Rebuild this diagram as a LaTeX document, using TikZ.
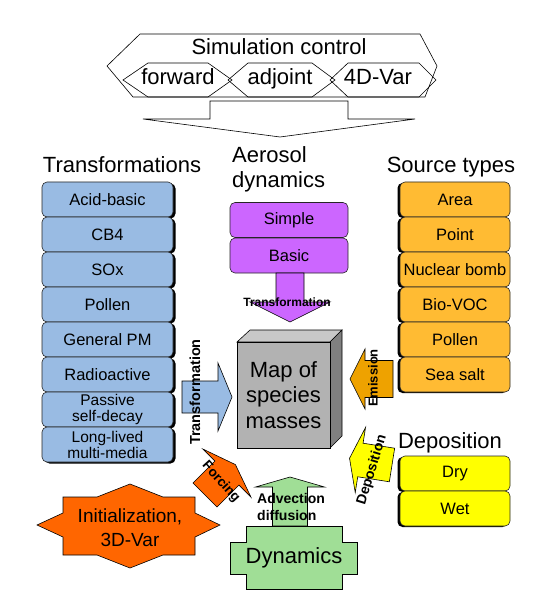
\documentclass[tikz,border=0pt]{standalone}
\usepackage{fontspec}
\setmainfont{Liberation Sans}
\usetikzlibrary{shadows}
\definecolor{blueC}{RGB}{153,187,227}
\definecolor{purpC}{RGB}{204,102,255}
\definecolor{orC}{RGB}{255,187,51}
\definecolor{emiC}{RGB}{238,162,0}
\definecolor{yelC}{RGB}{255,255,0}
\definecolor{redC}{RGB}{255,102,0}
\definecolor{grnC}{RGB}{160,222,150}
\definecolor{cubeF}{RGB}{178,178,178}
\definecolor{cubeT}{RGB}{200,200,200}
\definecolor{cubeS}{RGB}{128,128,128}
\newcommand{\myfs}[2]{\fontsize{#1}{#2}\selectfont}
% tail x, tail y, angle, shaft length, half shaft width, half head width, head length, style
\newcommand{\blkarrow}[8]{%
  \begin{scope}[shift={(#1,#2)},rotate=#3]
    \draw[#8] (0,-#5) -- (#4,-#5) -- (#4,-#6) -- ({#4+#7},0) -- (#4,#6) -- (#4,#5) -- (0,#5) -- cycle;
  \end{scope}}
\begin{document}
\begin{tikzpicture}[x=1pt,y=-1pt,
  ln/.style={draw=black, line width=0.6pt},
  title/.style={font=\myfs{22}{22}, inner sep=0pt},
  bbox/.style={draw=black!85, line width=0.6pt, rounded corners=5pt, minimum height=35pt, inner sep=0pt, align=center, font=\myfs{16.5}{17}},
  small/.style={font=\myfs{15.5}{16}},
  bluebox/.style={bbox, fill=blueC, minimum width=131pt, drop shadow={shadow xshift=2.5pt,shadow yshift=-1.5pt,opacity=1,fill=black}},
  orbox/.style={bbox, fill=orC, minimum width=110pt, drop shadow={shadow xshift=-2.5pt,shadow yshift=-1pt,opacity=1,fill=black}},
  yelbox/.style={bbox, fill=yelC, minimum width=110pt, drop shadow={shadow xshift=-2.5pt,shadow yshift=-1pt,opacity=1,fill=black}},
  purbox/.style={bbox, fill=purpC, minimum width=118pt},
  lbl/.style={font=\bfseries\myfs{#1}{#1}, inner sep=0pt},
  lbl/.default=13
]
\useasboundingbox (0,0) rectangle (537,612);

% ---------- Simulation control ----------
\draw[ln, fill=white] (140,34) -- (420,34) -- (437,66) -- (425,97) -- (133,97) -- (107,66) -- cycle;
\draw[ln] (123,80) -- (148,63) -- (208,63) -- (232,80) -- (208,97) -- (148,97) -- cycle;
\draw[ln] (228,80) -- (248,63) -- (312,63) -- (335,80) -- (312,97) -- (248,97) -- cycle;
\draw[ln] (330,80) -- (348,63) -- (419,63) -- (436,80) -- (419,97) -- (348,97) -- cycle;
\node[title, anchor=base] (simc) at (279,55) {Simulation control};
\node[title, anchor=base] (fwd) at (178,85) {forward};
\node[title, anchor=base] (adj) at (280,85) {adjoint};
\node[title, anchor=base] (var4) at (378,85) {4D-Var};
\draw[ln, fill=white] (210,101) -- (348,101) -- (348,119) -- (415,119) -- (280,137) -- (143,119) -- (210,119) -- cycle;

% ---------- Transformations ----------
\node[title, anchor=base] (trt) at (122,173) {Transformations};
\node[bluebox] (tr1) at (107.5,199.5) {Acid-basic};
\node[bluebox] (tr2) at (107.5,234.5) {CB4};
\node[bluebox] (tr3) at (107.5,269.5) {SOx};
\node[bluebox] (tr4) at (107.5,304.5) {Pollen};
\node[bluebox] (tr5) at (107.5,339.5) {General PM};
\node[bluebox] (tr6) at (107.5,374.5) {Radioactive};
\node[bluebox, small] (tr7) at (107.5,409.5) {Passive\\self-decay};
\node[bluebox, small] (tr8) at (107.5,444.5) {Long-lived\\multi-media};

% ---------- Aerosol dynamics ----------
\node[title, anchor=base west] (aer1) at (232,163) {Aerosol};
\node[title, anchor=base west] (aer2) at (232,188) {dynamics};
\node[purbox] (ae1) at (289,220) {Simple};
\node[purbox] (ae2) at (289,255.5) {Basic};

% ---------- Source types ----------
\node[title, anchor=base] (srt) at (451,173) {Source types};
\node[orbox] (so1) at (455,199.5) {Area};
\node[orbox] (so2) at (455,234.5) {Point};
\node[orbox] (so3) at (455,269.5) {Nuclear bomb};
\node[orbox] (so4) at (455,304.5) {Bio-VOC};
\node[orbox] (so5) at (455,339.5) {Pollen};
\node[orbox] (so6) at (455,374.5) {Sea salt};

% ---------- Deposition ----------
\node[title, anchor=base] (dept) at (450,448) {Deposition};
\node[yelbox] (de1) at (455,473.5) {Dry};
\node[yelbox] (de2) at (455,508.5) {Wet};

% ---------- Map cube ----------
\draw[ln, fill=cubeT] (237,342) -- (250,330) -- (342,330) -- (330,342) -- cycle;
\draw[ln, fill=cubeS] (330,342) -- (342,330) -- (342,436) -- (330,448) -- cycle;
\draw[ln, fill=cubeF] (237,342) rectangle (330,448);
\node[align=center, font=\myfs{22}{25.5}, inner sep=0pt] (map) at (283.5,395) {Map of\\species\\masses};

% ---------- Arrows ----------
\blkarrow{182}{397}{0}{36}{16}{34}{14}{ln, fill=blueC}
\blkarrow{290}{273}{-90}{29}{14}{40}{20}{ln, fill=purpC}
\blkarrow{393}{379}{180}{28}{18.5}{30}{15}{ln, fill=emiC}
\blkarrow{392}{465}{171}{32}{17}{33}{11}{ln, fill=yelC}
\blkarrow{205}{495}{45}{31}{17}{34}{12}{ln, fill=redC}
\blkarrow{290}{526}{90}{39}{17.5}{34.5}{10}{ln, fill=grnC}

\node[lbl=12] (ltr1) at (287,302) {Transformation};
\node[lbl=14.5, rotate=90] (ltr2) at (195,392) {Transformation};
\node[lbl=13, rotate=90] (lemi) at (373,378) {Emission};
\node[lbl=14, rotate=73] (ldep) at (372,470) {Deposition};
\node[lbl=13.5, rotate=-48] (lfor) at (221,482) {Forcing};
\node[lbl=14, align=left, anchor=west, font=\bfseries\myfs{14}{17}] (ladv) at (257,507) {Advection\\diffusion};

% ---------- Initialization ----------
\draw[ln, fill=redC] (63,497) -- (97,497) -- (130,484) -- (163,497) -- (195,497) -- (195,513) -- (220,525) -- (195,537) -- (195,555) -- (163,555) -- (130,568) -- (97,555) -- (63,555) -- (63,537) -- (37,525) -- (63,513) -- cycle;
\node[align=center, font=\myfs{19}{24}, inner sep=0pt] (init) at (130,528) {Initialization,\\3D-Var};

% ---------- Dynamics ----------
\draw[ln, fill=grnC] (246,526) -- (342,526) -- (342,542) -- (357,542) -- (357,574) -- (342,574) -- (342,589) -- (246,589) -- (246,574) -- (230,574) -- (230,542) -- (246,542) -- cycle;
\node[title] (dyn) at (294,558) {Dynamics};
\end{tikzpicture}
\end{document}
